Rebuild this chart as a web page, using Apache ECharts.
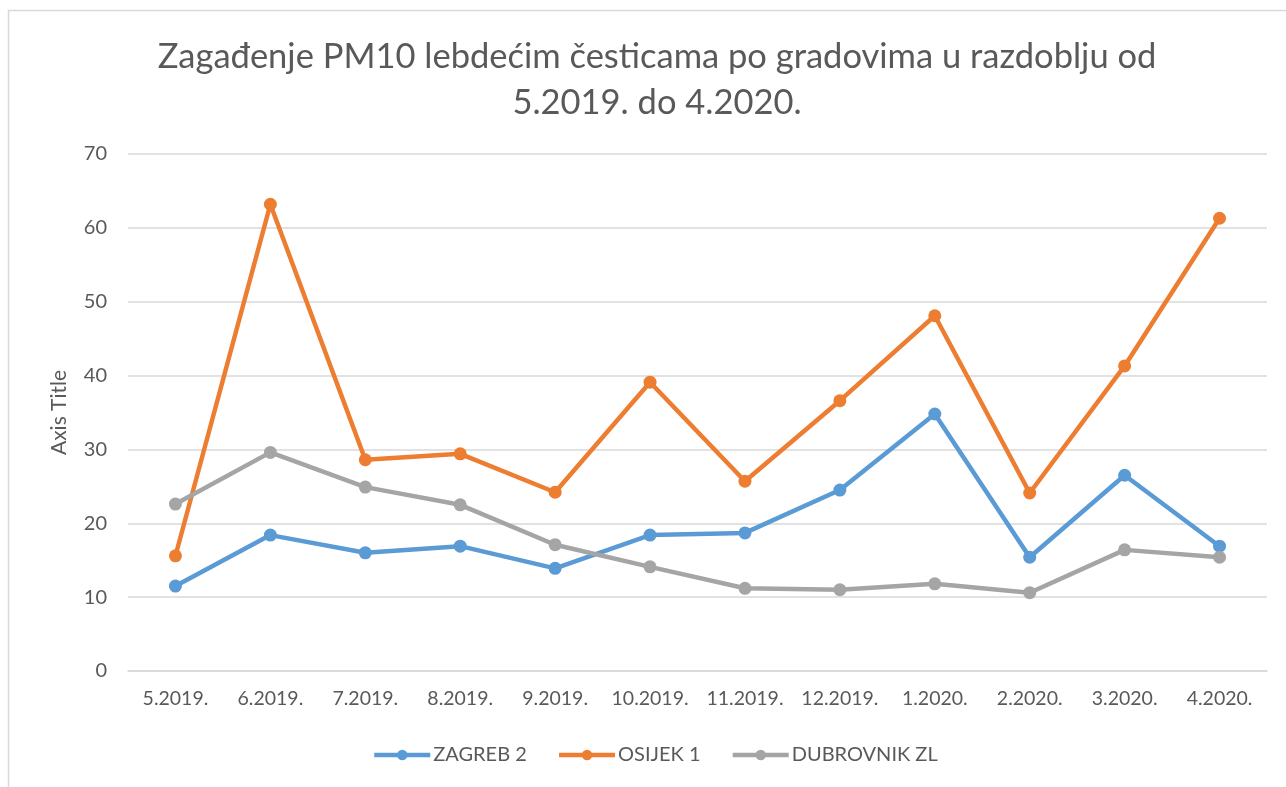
<!DOCTYPE html>
<html>
<head>
<meta charset="utf-8">
<script src="https://cdn.jsdelivr.net/npm/echarts@6/dist/echarts.min.js"></script>
<style>html,body{margin:0;padding:0;background:#fff;}#c{width:1286px;height:787px;}</style>
</head>
<body>
<div id="c"></div>
<script>
var categories = ['5.2019.','6.2019.','7.2019.','8.2019.','9.2019.','10.2019.','11.2019.','12.2019.','1.2020.','2.2020.','3.2020.','4.2020.'];
var zagreb = [11.5, 18.4, 16.0, 16.9, 13.9, 18.4, 18.7, 24.5, 34.8, 15.4, 26.5, 16.9];
var osijek = [15.6, 63.2, 28.6, 29.4, 24.2, 39.1, 25.7, 36.6, 48.1, 24.1, 41.3, 61.3];
var dubrovnik = [22.6, 29.6, 24.9, 22.5, 17.1, 14.1, 11.2, 11.0, 11.8, 10.6, 16.4, 15.4];
var seriesNames = ['ZAGREB 2', 'OSIJEK 1', 'DUBROVNIK ZL'];
var colors = ['#5B9BD5', '#ED7D31', '#A5A5A5'];
var font = 'Lato, "Open Sans", sans-serif';

var chart = echarts.init(document.getElementById('c'), null, {renderer: 'canvas'});
function mk(name, data, color) {
  return {
    name: name, type: 'line', data: data, color: color,
    symbol: 'circle', symbolSize: 13,
    lineStyle: {width: 4.5, color: color},
    itemStyle: {color: color},
    emphasis: {disabled: true}
  };
}
chart.setOption({
  animation: false,
  backgroundColor: '#fff',
  graphic: [{
    type: 'polyline', silent: true,
    shape: {points: [[8.5, 800], [8.5, 10.5], [1300, 10.5]]},
    style: {stroke: '#D9D9D9', lineWidth: 1.5, fill: null}
  }],
  title: {
    text: 'Zagađenje PM10 lebdećim česticama po gradovima u razdoblju od\n5.2019. do 4.2020.',
    left: 652, top: 29, textAlign: 'center',
    textStyle: {fontFamily: font, fontSize: 34.5, fontWeight: 'normal', color: '#595959', lineHeight: 46}
  },
  legend: {
    data: seriesNames,
    bottom: 17, left: 367,
    itemWidth: 56, itemHeight: 13, itemGap: 30,
    lineStyle: {width: 4.5},
    textStyle: {fontFamily: font, fontSize: 20, color: '#595959', padding: [0, 0, 0, -2]}
  },
  grid: {left: 128, right: 19, top: 154, bottom: 116},
  xAxis: {
    type: 'category', data: categories, boundaryGap: true,
    axisLine: {show: true, lineStyle: {color: '#D9D9D9', width: 1.5}},
    axisTick: {show: false},
    axisLabel: {fontFamily: font, fontSize: 19.5, color: '#595959', margin: 18, interval: 0}
  },
  yAxis: {
    type: 'value', min: 0, max: 70, interval: 10,
    name: 'Axis Title', nameLocation: 'middle', nameGap: 58, nameRotate: 90,
    nameTextStyle: {fontFamily: font, fontSize: 21, color: '#595959'},
    axisLine: {show: false}, axisTick: {show: false},
    axisLabel: {fontFamily: font, fontSize: 20, color: '#595959', margin: 21},
    splitLine: {lineStyle: {color: '#D9D9D9', width: 1.5}}
  },
  series: [
    mk(seriesNames[0], zagreb, colors[0]),
    mk(seriesNames[1], osijek, colors[1]),
    mk(seriesNames[2], dubrovnik, colors[2])
  ]
});
</script>
</body>
</html>
